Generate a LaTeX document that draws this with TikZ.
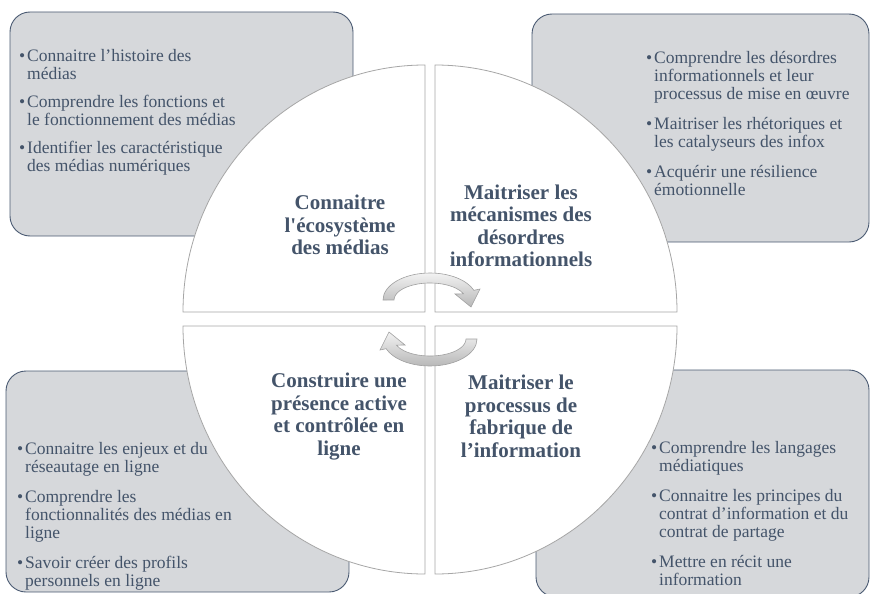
\documentclass[tikz,border=0pt]{standalone}
\usepackage{fontspec}
\setmainfont{Liberation Serif}[Ligatures=TeXOff]
\definecolor{boxfill}{HTML}{D6D8DB}
\definecolor{boxline}{HTML}{4A5A72}
\definecolor{txt}{HTML}{44546A}
\definecolor{quadline}{HTML}{A6A6A6}
\definecolor{arrline}{HTML}{A0A0A0}
\newcommand\bul{\llap{\textbullet\hspace{2pt}}}
\begin{document}
\begin{tikzpicture}[x=1pt,y=-1pt,
  infobox/.style={draw=boxline, fill=boxfill, line width=0.9pt, rounded corners=20pt},
  quad/.style={draw=quadline, fill=white, line width=0.8pt},
  title/.style={font=\bfseries\fontsize{21}{22.5}\selectfont, text=txt, align=center, inner sep=0pt},
  bullets/.style={font=\fontsize{17.5}{18}\selectfont, text=txt, align=left, inner sep=0pt, anchor=north west},
  cyc/.style={draw=arrline, line width=0.6pt, top color=white!95!black, bottom color=white!72!black}
]
\clip (0,0) rectangle (870,594);
\useasboundingbox (0,0) rectangle (870,594);
% boxes
\draw[infobox] (10,12) rectangle (353,236);
\draw[infobox] (532,14) rectangle (869,242);
\draw[infobox] (6,371) rectangle (349,592);
\draw[infobox] (536,370) rectangle (869,597);
% quadrants
\draw[quad] (425,312) -- (183,312) arc[start angle=180, end angle=270, x radius=242, y radius=247] -- cycle;
\draw[quad] (435,312) -- (677,312) arc[start angle=0, end angle=-90, x radius=242, y radius=247] -- cycle;
\draw[quad] (425,326) -- (183,326) arc[start angle=180, end angle=90, x radius=242, y radius=248] -- cycle;
\draw[quad] (435,326) -- (677,326) arc[start angle=0, end angle=90, x radius=242, y radius=248] -- cycle;
% circular arrows
\path[cyc] (383,300) arc[start angle=180, end angle=339, x radius=47, y radius=27]
  -- (480,289) -- (471,307) -- (455,294) -- (463.6,293.9)
  arc[start angle=339, end angle=180, x radius=36, y radius=17] -- cycle;
\begin{scope}[rotate around={180:(430,319.5)}]
\path[cyc] (383,300) arc[start angle=180, end angle=339, x radius=47, y radius=27]
  -- (480,289) -- (471,307) -- (455,294) -- (463.6,293.9)
  arc[start angle=339, end angle=180, x radius=36, y radius=17] -- cycle;
\end{scope}
% titles
\node[title] (t1) at (340,225) {Connaitre\\l'écosystème\\des médias};
\node[title] (t2) at (521,226) {Maitriser les\\mécanismes des\\désordres\\informationnels};
\node[title] (t3) at (339,416.5) {Construire une\\présence active\\et contrôlée en\\ligne};
\node[title] (t4) at (521,416.5) {Maitriser le\\processus de\\fabrique de\\l’information};
% bullets
\node[bullets] (b1) at (27,49) {\bul Connaitre l’histoire des\\médias\\[10pt]\bul Comprendre les fonctions et\\le fonctionnement des médias\\[10pt]\bul Identifier les caractéristique\\des médias numériques};
\node[bullets] (b2) at (654,51) {\bul Comprendre les désordres\\informationnels et leur\\processus de mise en œuvre\\[12pt]\bul Maitriser les rhétoriques et\\les catalyseurs des infox\\[12pt]\bul Acquérir une résilience\\émotionnelle};
\node[bullets] (b3) at (25,442) {\bul Connaitre les enjeux et du\\réseautage en ligne\\[12pt]\bul Comprendre les\\fonctionnalités des médias en\\ligne\\[12pt]\bul Savoir créer des profils\\personnels en ligne};
\node[bullets] (b4) at (659,441) {\bul Comprendre les langages\\médiatiques\\[12pt]\bul Connaitre les principes du\\contrat d’information et du\\contrat de partage\\[12pt]\bul Mettre en récit une\\information};
\end{tikzpicture}
\end{document}
